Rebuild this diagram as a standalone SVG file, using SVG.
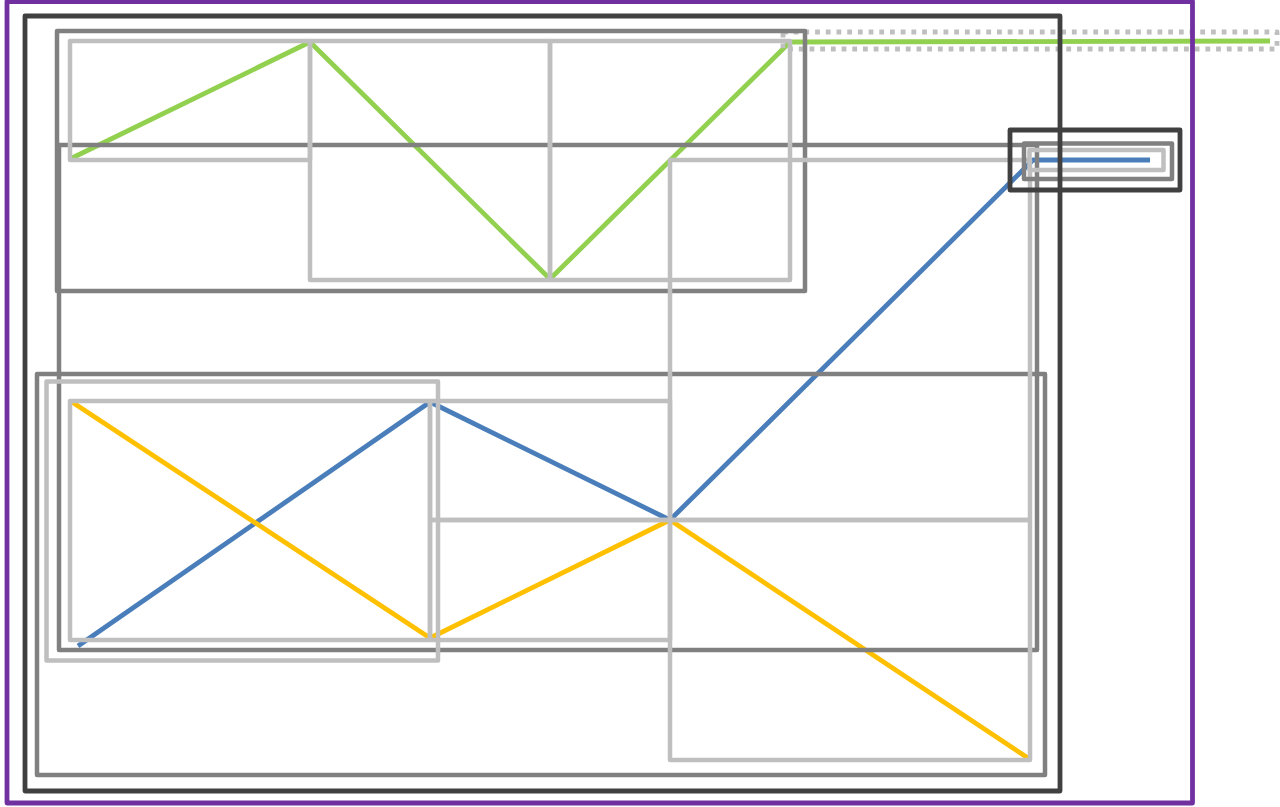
<svg xmlns="http://www.w3.org/2000/svg" width="1280" height="807" viewBox="0 0 1280 807">
<style>
rect{fill:none;stroke-linejoin:round}
.pu{stroke:#7030a0;stroke-width:4.8}
.dk{stroke:#404040;stroke-width:4.8}
.gr{stroke:#808080;stroke-width:4.5}
.lg{stroke:#bfbfbf;stroke-width:4.5}
.dot{stroke:#bfbfbf;stroke-width:4.8;stroke-dasharray:4.8 5.9}
.ln{fill:none;stroke-width:4.8;stroke-linejoin:round}
.green{stroke:#92d050}
.blue{stroke:#4a7ebb}
.yellow{stroke:#ffc000}
</style>
<rect x="0" y="0" width="1280" height="807" fill="#ffffff" stroke="none"/>
<g id="connectors">
<polyline class="ln green" points="72,158 310,42 550,279 790,42 1270,41"/>
<polyline class="ln blue" points="78,646 430,402 670,520 1033,160 1150,160"/>
<polyline class="ln yellow" points="72,402 430,638 670,520 1028,758"/>
</g>
<g id="dotted-band">
<rect class="dot" x="783" y="32" width="494" height="17"/>
</g>
<g id="gray-top"><rect class="gr" x="57" y="31" width="748" height="260"/></g>
<g id="gray-mid"><rect class="gr" x="59" y="145" width="978" height="505"/></g>
<g id="gray-bottom"><rect class="gr" x="37" y="374" width="1008" height="401"/></g>
<g id="lg-1"><rect class="lg" x="70" y="41" width="240" height="119"/></g>
<g id="lg-2"><rect class="lg" x="310" y="41" width="240" height="239"/></g>
<g id="lg-3"><rect class="lg" x="550" y="41" width="240" height="239"/></g>
<g id="lg-4"><rect class="lg" x="670" y="160" width="360" height="360"/></g>
<g id="lg-5"><rect class="lg" x="670" y="520" width="360" height="240"/></g>
<g id="lg-6"><rect class="lg" x="430" y="401" width="240" height="119"/></g>
<g id="lg-7"><rect class="lg" x="430" y="520" width="240" height="120"/></g>
<g id="lg-8"><rect class="lg" x="46.5" y="381.5" width="391.5" height="279"/></g>
<g id="lg-9"><rect class="lg" x="70" y="401" width="360" height="239"/></g>
<g id="small-box">
<rect class="lg" x="1029.5" y="150" width="134" height="20"/>
<rect class="gr" x="1024" y="143.5" width="148" height="35.5"/>
<rect class="dk" x="1010" y="130" width="170" height="60"/>
</g>
<g id="dark-frame"><rect class="dk" x="25" y="16" width="1035" height="775"/></g>
<g id="purple-frame"><rect class="pu" x="7" y="1.5" width="1185.5" height="801.5"/></g>
</svg>
